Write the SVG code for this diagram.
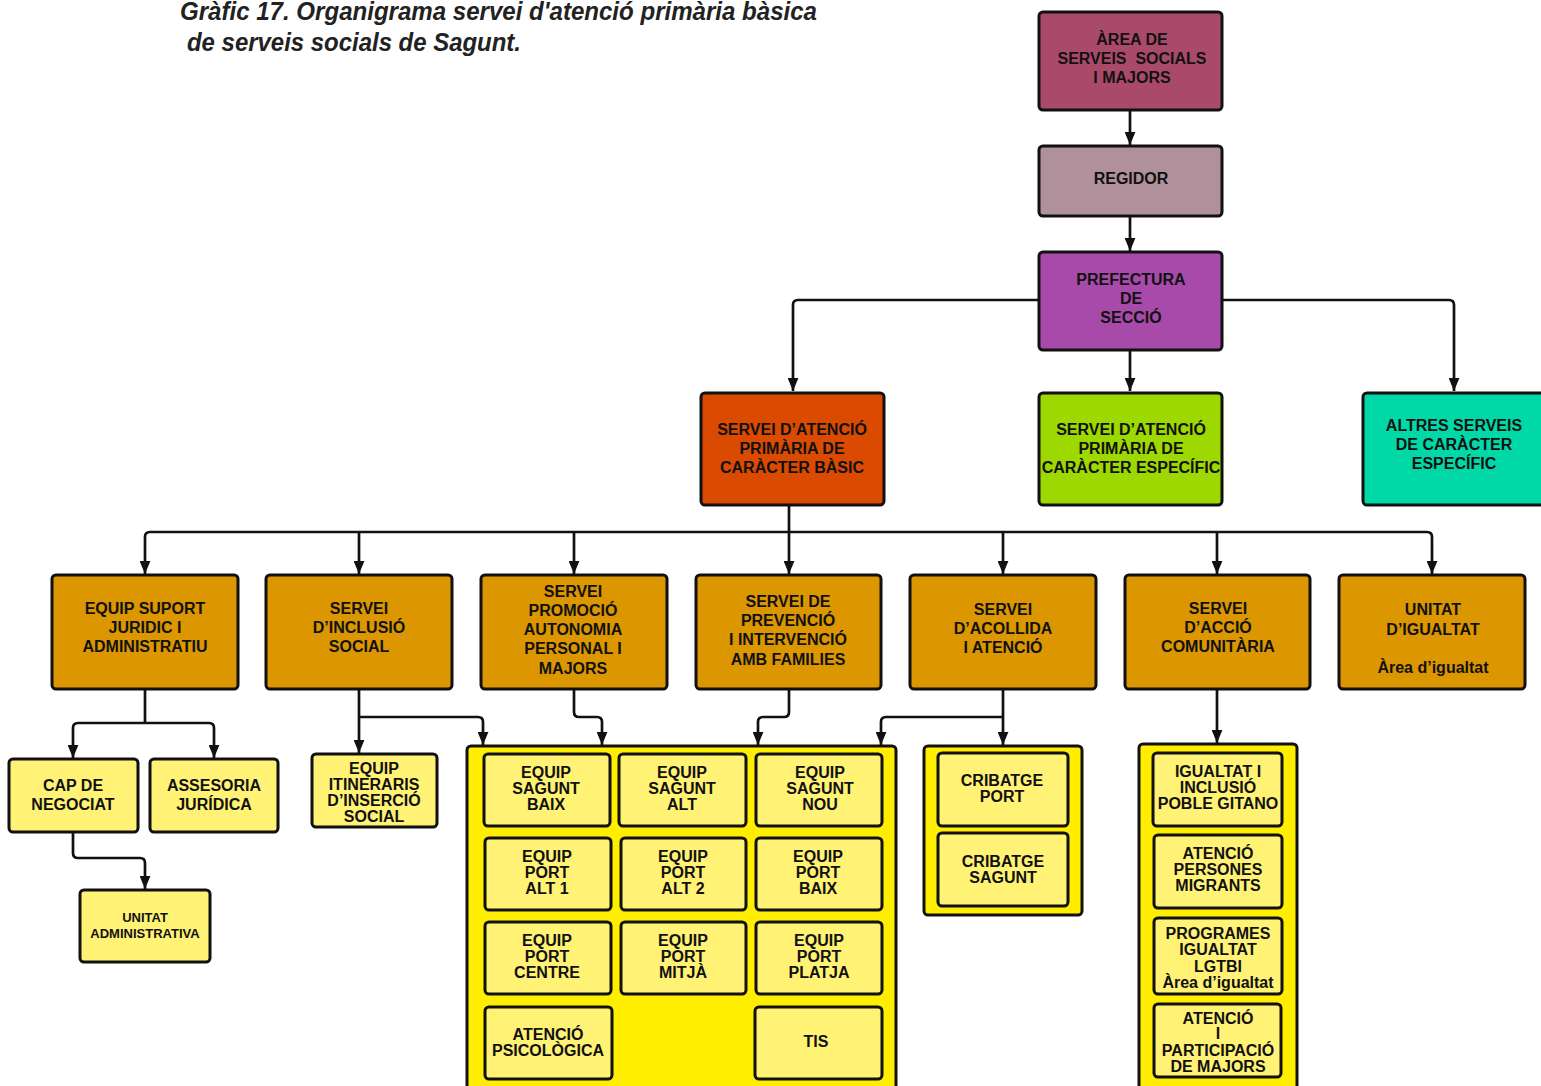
<svg xmlns="http://www.w3.org/2000/svg" width="1541" height="1086" viewBox="0 0 1541 1086">
<style>
.n rect{stroke:#111;stroke-width:3}
.t{font-family:"Liberation Sans",Arial,sans-serif;font-weight:bold;font-size:16px;text-anchor:middle;fill:#111}
.s16{font-size:16px}
.s13{font-size:13px}
.c path{fill:none;stroke:#111;stroke-width:2.7;stroke-linejoin:round}
.a{marker-end:url(#ah)}
.ttl{font-family:"Liberation Sans",Arial,sans-serif;font-weight:bold;font-style:italic;font-size:25px;fill:#222}
.ly{fill:#FFF275}
.cy{fill:#FFEE00}
.or{fill:#DB9600}
</style>
<defs>
<marker id="ah" viewBox="0 0 12 10" refX="12" refY="5" markerWidth="13" markerHeight="11" markerUnits="userSpaceOnUse" orient="auto">
<path d="M0,0 L12,5 L0,10 z" fill="#111"/>
</marker>
</defs>
<rect width="1541" height="1086" fill="#fff"/>
<g id="title">
<text class="ttl" x="180" y="20" textLength="637" lengthAdjust="spacingAndGlyphs">Gràfic 17. Organigrama servei d'atenció primària bàsica</text>
<text class="ttl" x="187" y="51" textLength="334" lengthAdjust="spacingAndGlyphs">de serveis socials de Sagunt.</text>
</g>
<g class="c" id="connectors">
<path class="a" d="M1130,110 V145"/>
<path class="a" d="M1130,216 V251"/>
<path class="a" d="M1039,300 H798 Q793,300 793,305 V391"/>
<path class="a" d="M1222,300 H1449 Q1454,300 1454,305 V391"/>
<path class="a" d="M1130,350 V391"/>
<path d="M789,505 V532"/>
<path class="a" d="M789,532 H150 Q145,532 145,537 V574"/>
<path class="a" d="M789,532 H1427 Q1432,532 1432,537 V574"/>
<path class="a" d="M359,532 V574"/>
<path class="a" d="M574,532 V574"/>
<path class="a" d="M789,532 V574"/>
<path class="a" d="M1003,532 V574"/>
<path class="a" d="M1217,532 V574"/>
<path d="M145,689 V723"/>
<path class="a" d="M145,723 H78 Q73,723 73,728 V758"/>
<path class="a" d="M145,723 H209 Q214,723 214,728 V758"/>
<path class="a" d="M73,832 V853 Q73,858 78,858 H140 Q145,858 145,863 V889"/>
<path class="a" d="M359,689 V753"/>
<path class="a" d="M359,717 H478 Q483,717 483,722 V745"/>
<path class="a" d="M574,689 V712 Q574,717 579,717 H597 Q602,717 602,722 V745"/>
<path class="a" d="M789,689 V712 Q789,717 784,717 H763 Q758,717 758,722 V745"/>
<path class="a" d="M1003,689 V745"/>
<path class="a" d="M1003,717 H886 Q881,717 881,722 V745"/>
<path class="a" d="M1217,689 V743"/>
</g>
<g class="n" id="area"><rect x="1039" y="12" width="183" height="98" rx="4" fill="#AA4A6A"/>
<text class="t" x="1132" y="45">ÀREA DE</text><text class="t" x="1132" y="64" xml:space="preserve">SERVEIS  SOCIALS</text><text class="t" x="1132" y="83">I MAJORS</text></g>
<g class="n" id="regidor"><rect x="1039" y="146" width="183" height="70" rx="4" fill="#B0909A"/>
<text class="t" x="1131" y="184">REGIDOR</text></g>
<g class="n" id="prefectura"><rect x="1039" y="252" width="183" height="98" rx="4" fill="#A84AAA"/>
<text class="t" x="1131" y="285">PREFECTURA</text><text class="t" x="1131" y="304">DE</text><text class="t" x="1131" y="323">SECCIÓ</text></g>
<g class="n" id="basic"><rect x="701" y="393" width="183" height="112" rx="4" fill="#DA4A00"/>
<text class="t" x="792" y="435">SERVEI D’ATENCIÓ</text><text class="t" x="792" y="454">PRIMÀRIA DE</text><text class="t" x="792" y="473">CARÀCTER BÀSIC</text></g>
<g class="n" id="especific"><rect x="1039" y="393" width="183" height="112" rx="4" fill="#9DD800"/>
<text class="t" x="1131" y="435">SERVEI D’ATENCIÓ</text><text class="t" x="1131" y="454">PRIMÀRIA DE</text><text class="t" x="1131" y="473">CARÀCTER ESPECÍFIC</text></g>
<g class="n" id="altres"><rect x="1363" y="393" width="186" height="112" rx="4" fill="#00D8A8"/>
<text class="t" x="1454" y="431">ALTRES SERVEIS</text><text class="t" x="1454" y="450">DE CARÀCTER</text><text class="t" x="1454" y="469">ESPECÍFIC</text></g>

<g class="n" id="suport"><rect class="or" x="52" y="575" width="186" height="114" rx="4"/>
<text class="t" x="145" y="614">EQUIP SUPORT</text><text class="t" x="145" y="633">JURIDIC I</text><text class="t" x="145" y="652">ADMINISTRATIU</text></g>
<g class="n" id="inclusio"><rect class="or" x="266" y="575" width="186" height="114" rx="4"/>
<text class="t" x="359" y="614">SERVEI</text><text class="t" x="359" y="633">D’INCLUSIÓ</text><text class="t" x="359" y="652">SOCIAL</text></g>
<g class="n" id="promocio"><rect class="or" x="481" y="575" width="186" height="114" rx="4"/>
<text class="t" x="573" y="597">SERVEI</text><text class="t" x="573" y="616">PROMOCIÓ</text><text class="t" x="573" y="635">AUTONOMIA</text><text class="t" x="573" y="654">PERSONAL I</text><text class="t" x="573" y="674">MAJORS</text></g>
<g class="n" id="prevencio"><rect class="or" x="696" y="575" width="185" height="114" rx="4"/>
<text class="t" x="788" y="607">SERVEI DE</text><text class="t" x="788" y="626">PREVENCIÓ</text><text class="t" x="788" y="645">I INTERVENCIÓ</text><text class="t" x="788" y="665">AMB FAMILIES</text></g>
<g class="n" id="acollida"><rect class="or" x="910" y="575" width="186" height="114" rx="4"/>
<text class="t" x="1003" y="615">SERVEI</text><text class="t" x="1003" y="634">D’ACOLLIDA</text><text class="t" x="1003" y="653">I ATENCIÓ</text></g>
<g class="n" id="comunitaria"><rect class="or" x="1125" y="575" width="185" height="114" rx="4"/>
<text class="t" x="1218" y="614">SERVEI</text><text class="t" x="1218" y="633">D’ACCIÓ</text><text class="t" x="1218" y="652">COMUNITÀRIA</text></g>
<g class="n" id="igualtat"><rect class="or" x="1339" y="575" width="186" height="114" rx="4"/>
<text class="t" x="1433" y="615">UNITAT</text><text class="t" x="1433" y="635">D’IGUALTAT</text><text class="t" x="1433" y="673">Àrea d’igualtat</text></g>

<g class="n" id="cap"><rect class="ly" x="9" y="759" width="129" height="73" rx="4"/>
<text class="t s16" x="73" y="791">CAP DE</text><text class="t s16" x="73" y="810">NEGOCIAT</text></g>
<g class="n" id="assesoria"><rect class="ly" x="150" y="759" width="128" height="73" rx="4"/>
<text class="t s16" x="214" y="791">ASSESORIA</text><text class="t s16" x="214" y="810">JURÍDICA</text></g>
<g class="n" id="unitatadm"><rect class="ly" x="80" y="890" width="130" height="72" rx="4"/>
<text class="t s13" x="145" y="922">UNITAT</text><text class="t s13" x="145" y="938">ADMINISTRATIVA</text></g>
<g class="n" id="itineraris"><rect class="ly" x="312" y="754" width="125" height="73" rx="4"/>
<text class="t s16" x="374" y="774">EQUIP</text><text class="t s16" x="374" y="790">ITINERARIS</text><text class="t s16" x="374" y="806">D’INSERCIÓ</text><text class="t s16" x="374" y="822">SOCIAL</text></g>

<g class="n" id="equips"><rect class="cy" x="467" y="746" width="429" height="350" rx="4"/>
<g id="sagunt-baix"><rect class="ly" x="484" y="754" width="126" height="72" rx="4"/>
<text class="t s16" x="546" y="778">EQUIP</text><text class="t s16" x="546" y="794">SAGUNT</text><text class="t s16" x="546" y="810">BAIX</text></g>
<g id="sagunt-alt"><rect class="ly" x="619" y="754" width="127" height="72" rx="4"/>
<text class="t s16" x="682" y="778">EQUIP</text><text class="t s16" x="682" y="794">SAGUNT</text><text class="t s16" x="682" y="810">ALT</text></g>
<g id="sagunt-nou"><rect class="ly" x="756" y="754" width="126" height="72" rx="4"/>
<text class="t s16" x="820" y="778">EQUIP</text><text class="t s16" x="820" y="794">SAGUNT</text><text class="t s16" x="820" y="810">NOU</text></g>
<g id="port-alt1"><rect class="ly" x="485" y="838" width="126" height="72" rx="4"/>
<text class="t s16" x="547" y="862">EQUIP</text><text class="t s16" x="547" y="878">PORT</text><text class="t s16" x="547" y="894">ALT 1</text></g>
<g id="port-alt2"><rect class="ly" x="621" y="838" width="125" height="72" rx="4"/>
<text class="t s16" x="683" y="862">EQUIP</text><text class="t s16" x="683" y="878">PORT</text><text class="t s16" x="683" y="894">ALT 2</text></g>
<g id="port-baix"><rect class="ly" x="756" y="838" width="126" height="72" rx="4"/>
<text class="t s16" x="818" y="862">EQUIP</text><text class="t s16" x="818" y="878">PORT</text><text class="t s16" x="818" y="894">BAIX</text></g>
<g id="port-centre"><rect class="ly" x="485" y="922" width="126" height="72" rx="4"/>
<text class="t s16" x="547" y="946">EQUIP</text><text class="t s16" x="547" y="962">PORT</text><text class="t s16" x="547" y="978">CENTRE</text></g>
<g id="port-mitja"><rect class="ly" x="621" y="922" width="125" height="72" rx="4"/>
<text class="t s16" x="683" y="946">EQUIP</text><text class="t s16" x="683" y="962">PORT</text><text class="t s16" x="683" y="978">MITJÀ</text></g>
<g id="port-platja"><rect class="ly" x="756" y="922" width="126" height="72" rx="4"/>
<text class="t s16" x="819" y="946">EQUIP</text><text class="t s16" x="819" y="962">PORT</text><text class="t s16" x="819" y="978">PLATJA</text></g>
<g id="psicologica"><rect class="ly" x="485" y="1007" width="127" height="72" rx="4"/>
<text class="t s16" x="548" y="1040">ATENCIÓ</text><text class="t s16" x="548" y="1056">PSICOLÒGICA</text></g>
<g id="tis"><rect class="ly" x="755" y="1007" width="127" height="72" rx="4"/>
<text class="t s16" x="816" y="1047">TIS</text></g>
</g>

<g class="n" id="cribatge"><rect class="cy" x="924" y="746" width="158" height="169" rx="4"/>
<g id="cribatge-port"><rect class="ly" x="938" y="753" width="130" height="73" rx="4"/>
<text class="t s16" x="1002" y="786">CRIBATGE</text><text class="t s16" x="1002" y="802">PORT</text></g>
<g id="cribatge-sagunt"><rect class="ly" x="938" y="833" width="130" height="73" rx="4"/>
<text class="t s16" x="1003" y="867">CRIBATGE</text><text class="t s16" x="1003" y="883">SAGUNT</text></g>
</g>

<g class="n" id="comunitaria-equips"><rect class="cy" x="1139" y="744" width="158" height="352" rx="4"/>
<g id="gitano"><rect class="ly" x="1153" y="753" width="129" height="73" rx="4"/>
<text class="t s16" x="1218" y="777">IGUALTAT I</text><text class="t s16" x="1218" y="793">INCLUSIÓ</text><text class="t s16" x="1218" y="809">POBLE GITANO</text></g>
<g id="migrants"><rect class="ly" x="1154" y="835" width="128" height="73" rx="4"/>
<text class="t s16" x="1218" y="859">ATENCIÓ</text><text class="t s16" x="1218" y="875">PERSONES</text><text class="t s16" x="1218" y="891">MIGRANTS</text></g>
<g id="lgtbi"><rect class="ly" x="1154" y="918" width="128" height="76" rx="4"/>
<text class="t s16" x="1218" y="939">PROGRAMES</text><text class="t s16" x="1218" y="955">IGUALTAT</text><text class="t s16" x="1218" y="972">LGTBI</text><text class="t s16" x="1218" y="988">Àrea d’igualtat</text></g>
<g id="majors"><rect class="ly" x="1154" y="1004" width="127" height="73" rx="4"/>
<text class="t s16" x="1218" y="1024">ATENCIÓ</text><text class="t s16" x="1218" y="1039">I</text><text class="t s16" x="1218" y="1056">PARTICIPACIÓ</text><text class="t s16" x="1218" y="1072">DE MAJORS</text></g>
</g>
</svg>
